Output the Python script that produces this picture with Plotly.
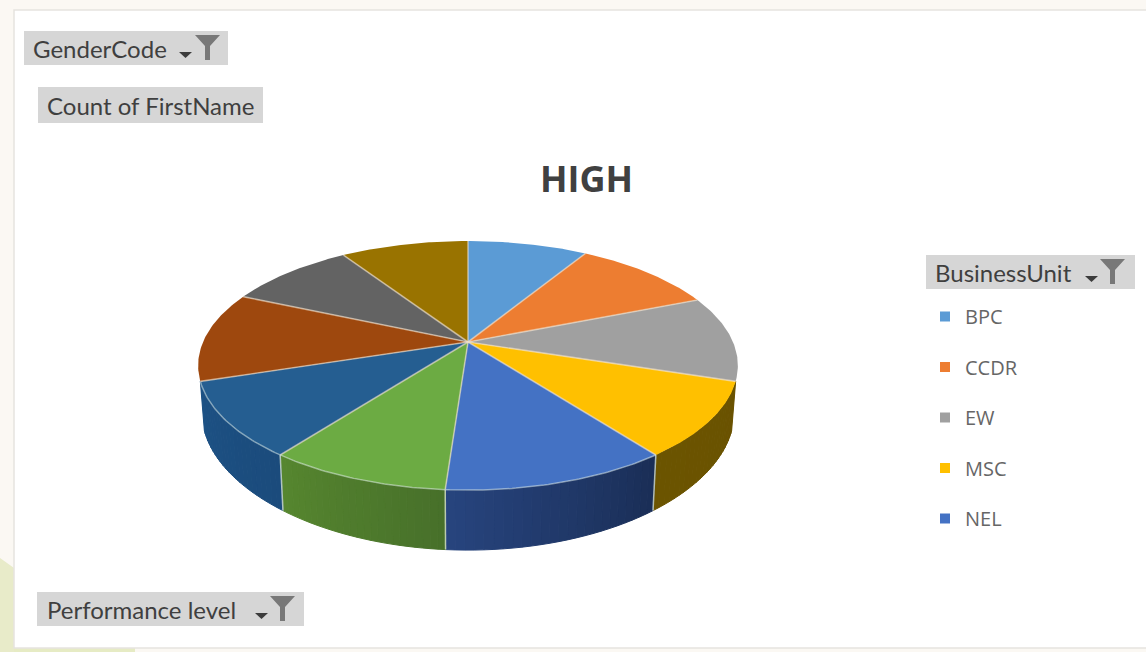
import math
import numpy as np
import plotly.graph_objects as go

# ---------- data ----------
title_text = "HIGH"
legend_title = "BusinessUnit"
categories = ["BPC", "CCDR", "EW", "MSC", "NEL", "PDA", "PPS", "SUP", "TEC", "VWS"]
values = [31, 37, 40, 35, 41, 33, 35, 42, 33, 33]
legend_count = 5
top_colors = ["#5b9bd5", "#ed7d31", "#a0a0a0", "#ffc000", "#4472c4",
              "#6cab43", "#255e91", "#9e480e", "#636363", "#997300"]
side_left = {3: "#6b5400", 4: "#27447e", 5: "#56862f", 6: "#1c5184"}
side_right = {3: "#6a5200", 4: "#1a2e56", 5: "#47702a", 6: "#1b4b7c"}
filter_labels = ["GenderCode", "Count of FirstName", "BusinessUnit", "Performance level"]

# ---------- geometry of the tilted pie (pixels) ----------
CX, CY, A, B, K = 468.0, 342.0, 265.0, 120.1, 0.189


def project(theta_deg, lower=False):
    t = np.radians(theta_deg)
    u, v = np.sin(t), -np.cos(t)
    w = 1 - K * v
    x = A * u / w
    y = B * v / w
    if lower:
        x = x * 0.985
        y = y + 48 + 12 * v * v
    return CX + x, CY + y


def hex2rgb(h):
    return np.array([int(h[i:i + 2], 16) for i in (1, 3, 5)], dtype=float)


def mix(a, b, f):
    c = hex2rgb(a) * (1 - f) + hex2rgb(b) * f
    return "rgb(%d,%d,%d)" % tuple(c.round())


bounds = np.concatenate([[0], np.cumsum(values)]) * 360.0 / sum(values)
fig = go.Figure()

# side wall, as thin strips shaded from right to left
STRIPS = 24
for i in side_left:
    a0, a1 = bounds[i], bounds[i + 1]
    edges = np.linspace(a0, a1, STRIPS + 1)
    for j in range(STRIPS):
        ts = np.linspace(edges[j], edges[j + 1], 4)
        xt, yt = project(ts)
        xb, yb = project(ts[::-1], lower=True)
        col = mix(side_right[i], side_left[i], (j + 0.5) / STRIPS)
        fig.add_trace(go.Scatter(x=np.r_[xt, xb, xt[0]], y=np.r_[yt, yb, yt[0]], mode="lines",
                                 fill="toself", fillcolor=col, line=dict(color=col, width=1),
                                 hoverinfo="skip", showlegend=False))
for a in bounds[4:7]:
    xt, yt = project(a)
    xb, yb = project(a, lower=True)
    fig.add_trace(go.Scatter(x=[xt, xb], y=[yt, yb], mode="lines",
                             line=dict(color="rgba(225,235,215,0.75)", width=1.5),
                             hoverinfo="skip", showlegend=False))

# top face
for i, name in enumerate(categories):
    ts = np.linspace(bounds[i], bounds[i + 1], 60)
    xr, yr = project(ts)
    fig.add_trace(go.Scatter(x=np.r_[CX, xr, CX], y=np.r_[CY, yr, CY], mode="lines", fill="toself",
                             fillcolor=top_colors[i], line=dict(color="rgba(255,255,255,0)", width=0),
                             name=name, hovertemplate=f"{name}: {values[i]}<extra></extra>",
                             showlegend=False))
# separators and lit front rim
for i in range(len(categories)):
    xr, yr = project(bounds[i])
    fig.add_trace(go.Scatter(x=[CX, xr], y=[CY, yr], mode="lines",
                             line=dict(color="rgba(240,225,205,0.6)", width=1.6),
                             hoverinfo="skip", showlegend=False))
xr, yr = project(np.linspace(bounds[4], bounds[7], 150))
fig.add_trace(go.Scatter(x=xr, y=yr, mode="lines", line=dict(color="rgba(225,240,235,0.5)", width=1.5),
                         hoverinfo="skip", showlegend=False))

# legend entries
for i in range(legend_count):
    fig.add_trace(go.Scatter(x=[None], y=[None], mode="markers", name=categories[i],
                             legendgroup=categories[i],
                             marker=dict(symbol="square", size=10, color=top_colors[i])))

# ---------- decoration ----------
shapes = [
    dict(type="rect", x0=0, x1=1146, y0=0, y1=652, fillcolor="#fbf8f3", line_width=0, layer="below"),
    dict(type="path", path="M0,558 L14,568 L14,652 L0,652 Z", fillcolor="#e8ebc9", line_width=0, layer="below"),
    dict(type="rect", x0=14, x1=135, y0=648, y1=652, fillcolor="#e6ebc4", line_width=0, layer="below"),
    dict(type="rect", x0=14, x1=1150, y0=10, y1=648, fillcolor="#ffffff",
         line=dict(color="#e6e3df", width=1.5), layer="below"),
]
buttons = [
    (24, 228, 31, 65, 31, 179, 195, True),
    (38, 263, 87, 123, 45, None, None, False),
    (926, 1135, 255, 289, 933, 1085, 1100, True),
    (37, 304, 592, 626, 45, 255, 270, True),
]
annotations = []
for label, (x0, x1, y0, y1, tx, ax, fx, has_filter) in zip(filter_labels, buttons):
    shapes.append(dict(type="rect", x0=x0, x1=x1, y0=y0, y1=y1, fillcolor="#d6d6d6", line_width=0, layer="below"))
    annotations.append(dict(x=tx, y=(y0 + y1) / 2, xref="x", yref="y", text=label, showarrow=False,
                            xanchor="left", yanchor="middle",
                            font=dict(family="Lato", size=24, color="#3f3f3f")))
    if has_filter:
        yb = y0 + 4
        shapes.append(dict(type="path",
                           path=f"M{fx},{yb} L{fx + 25},{yb} L{fx + 15},{yb + 11} L{fx + 15},{yb + 25} "
                                f"L{fx + 10},{yb + 25} L{fx + 10},{yb + 11} Z",
                           fillcolor="#787878", line_width=0, layer="below"))
        shapes.append(dict(type="path",
                           path=f"M{ax},{yb + 17} L{ax + 13},{yb + 17} L{ax + 6.5},{yb + 23} Z",
                           fillcolor="#3c3c3c", line_width=0, layer="below"))

annotations.append(dict(x=586, y=178, xref="x", yref="y", text=f"<b>{title_text}</b>", showarrow=False,
                        font=dict(family="Open Sans", size=36, color="#404040")))

fig.update_layout(
    width=1146, height=652, margin=dict(l=0, r=0, t=0, b=0),
    paper_bgcolor="#ffffff", plot_bgcolor="rgba(0,0,0,0)",
    xaxis=dict(range=[0, 1146], visible=False, fixedrange=True),
    yaxis=dict(range=[652, 0], visible=False, fixedrange=True),
    shapes=shapes, annotations=annotations,
    showlegend=True,
    legend=dict(x=925 / 1146, y=1 - 297 / 652, xanchor="left", yanchor="top", bgcolor="rgba(0,0,0,0)",
                tracegroupgap=21.5, font=dict(family="Open Sans", size=20, color="#666666"),
                itemclick=False, itemdoubleclick=False),
)
fig.write_html("out.html", config={"displayModeBar": False},
               post_script="document.body.style.margin='0';document.body.style.overflow='hidden';")
